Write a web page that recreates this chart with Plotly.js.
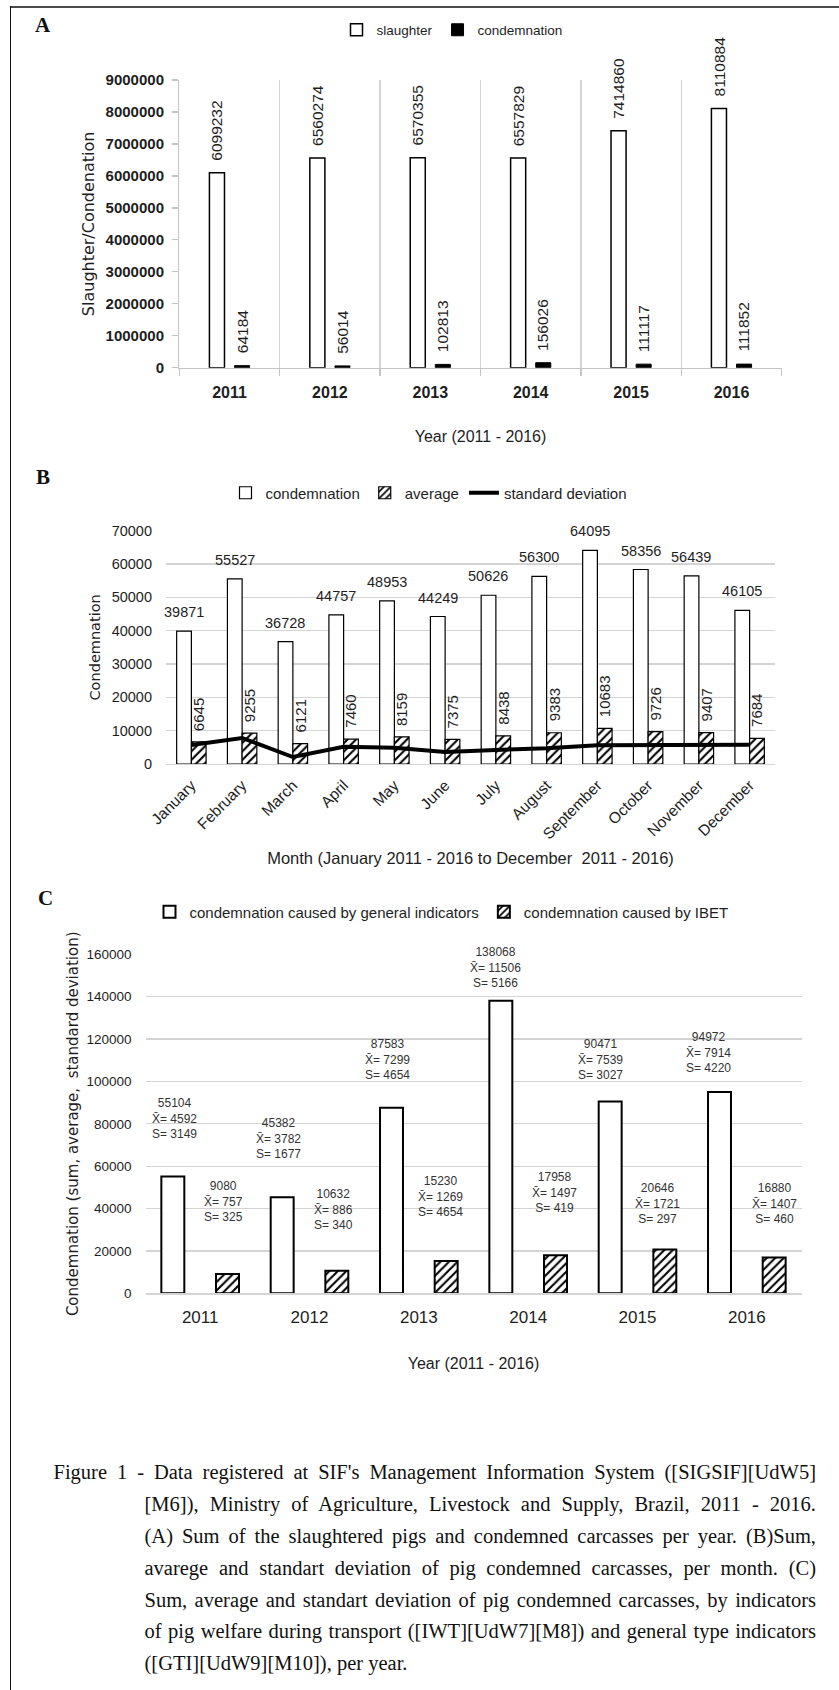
<!DOCTYPE html>
<html>
<head>
<meta charset="utf-8">
<script src="https://cdn.plot.ly/plotly-3.0.1.min.js"></script>
<style>
html,body{margin:0;padding:0;background:#fff;}
#wrap{position:relative;width:839px;height:1690px;overflow:hidden;background:#fff;}
#chart{position:absolute;left:0;top:0;width:839px;height:1690px;}
#frameTop{position:absolute;left:10px;top:6px;width:829px;height:0;border-top:2px solid #4a4a4a;}
#frameLeft{position:absolute;left:10px;top:6px;width:0;height:1684px;border-left:1.5px solid #111;}
#caption{position:absolute;left:0;top:0;width:839px;font-family:"Liberation Serif","Times New Roman",serif;font-size:20.5px;color:#111;}
.cl{position:absolute;height:31.8px;line-height:31.8px;white-space:nowrap;text-align:justify;text-align-last:justify;}
.cl.last{text-align:left;text-align-last:left;}
</style>
</head>
<body>
<div id="wrap">
  <div id="chart"></div>
  <div id="frameTop"></div>
  <div id="frameLeft"></div>
  <div id="caption"></div>
</div>
<script>
// ---------------- DATA ----------------
const years = ['2011', '2012', '2013', '2014', '2015', '2016'];
const slaughter = [6099232, 6560274, 6570355, 6557829, 7414860, 8110884];
const condemnationA = [64184, 56014, 102813, 156026, 111117, 111852];

const months = ['January', 'February', 'March', 'April', 'May', 'June', 'July',
  'August', 'September', 'October', 'November', 'December'];
const condemnationB = [39871, 55527, 36728, 44757, 48953, 44249, 50626, 56300, 64095, 58356, 56439, 46105];
const averageB = [6645, 9255, 6121, 7460, 8159, 7375, 8438, 9383, 10683, 9726, 9407, 7684];
const stdDevB = [5700, 7800, 2100, 5200, 4900, 3600, 4200, 4700, 5600, 5700, 5800, 5800];

const generalSum = [55104, 45382, 87583, 138068, 90471, 94972];
const generalMean = [4592, 3782, 7299, 11506, 7539, 7914];
const generalSd = [3149, 1677, 4654, 5166, 3027, 4220];
const ibetSum = [9080, 10632, 15230, 17958, 20646, 16880];
const ibetMean = [757, 886, 1269, 1497, 1721, 1407];
const ibetSd = [325, 340, 4654, 419, 297, 460];

const captionLines = [
  "Figure 1 - Data registered at SIF's Management Information System ([SIGSIF][UdW5]",
  "[M6]), Ministry of Agriculture, Livestock and Supply, Brazil, 2011 - 2016.",
  "(A) Sum of the slaughtered pigs and condemned carcasses per year. (B)Sum,",
  "avarege and standart deviation of pig condemned carcasses, per month. (C)",
  "Sum, average and standart deviation of pig condemned carcasses, by indicators",
  "of pig welfare during transport ([IWT][UdW7][M8]) and general type indicators",
  "([GTI][UdW9][M10]), per year."
];

// ---------------- LAYOUT HELPERS (pixels) ----------------
const W = 839, H = 1690;
function xd(a, b) { return [a / W, b / W]; }
function yd(top, bottom) { return [1 - bottom / H, 1 - top / H]; }
const SANS = 'Liberation Sans, Arial, sans-serif';
const WIDE = 'DejaVu Sans, Verdana, sans-serif';
const SERIF = 'Liberation Serif, Times New Roman, serif';
const TXT = '#1e1e1e';
const GRID = '#d4d4d4';

// label nudges for panel C (pixels: lift above bar top, horizontal nudge)
const genLift = [34, 34, 24, 9, 18, 15];
const genNudge = [2, -4, -4, -5, -10, -11];
const ibetLift = [48, 37, 40, 38, 22, 30];
const ibetNudge = [-4, -3, -6, -1, -7, 0];

// ---------------- TRACES ----------------
const traces = [
  // Panel A
  { type: 'bar', x: years, y: slaughter, name: 'slaughter', xaxis: 'x', yaxis: 'y',
    width: 0.15, offset: -0.2, legend: 'legend',
    marker: { color: '#ffffff', line: { color: '#000', width: 1.5 } } },
  { type: 'bar', x: years, y: condemnationA, name: 'condemnation', xaxis: 'x', yaxis: 'y',
    width: 0.15, offset: 0.05, legend: 'legend',
    marker: { color: '#000000', line: { color: '#000', width: 1 } } },
  // Panel B
  { type: 'bar', x: months, y: condemnationB, name: 'condemnation', xaxis: 'x2', yaxis: 'y2',
    width: 0.29, offset: -0.29, legend: 'legend2',
    marker: { color: '#ffffff', line: { color: '#000', width: 1.2 } } },
  { type: 'bar', x: months, y: averageB, name: 'average', xaxis: 'x2', yaxis: 'y2',
    width: 0.29, offset: 0, legend: 'legend2',
    marker: { color: '#ffffff', line: { color: '#000', width: 1.2 },
      pattern: { shape: '/', fgcolor: '#000', bgcolor: '#fff', size: 6, solidity: 0.35 } } },
  { type: 'scatter', mode: 'lines', x: months, y: stdDevB, name: 'standard deviation',
    xaxis: 'x2', yaxis: 'y2', legend: 'legend2',
    line: { color: '#000', width: 4 } },
  // Panel C
  { type: 'bar', x: years, y: generalSum, name: 'condemnation caused by general indicators',
    xaxis: 'x3', yaxis: 'y3', width: 0.21, offset: -0.355, legend: 'legend3',
    marker: { color: '#ffffff', line: { color: '#000', width: 2 } } },
  { type: 'bar', x: years, y: ibetSum, name: 'condemnation caused by IBET',
    xaxis: 'x3', yaxis: 'y3', width: 0.21, offset: 0.145, legend: 'legend3',
    marker: { color: '#ffffff', line: { color: '#000', width: 2 },
      pattern: { shape: '/', fgcolor: '#000', bgcolor: '#fff', size: 6, solidity: 0.35 } } }
];

// ---------------- ANNOTATIONS ----------------
// (on category axes, annotation x is the category's serial index)
const ann = [];
function letter(t, x, y) {
  ann.push({ xref: 'paper', yref: 'paper', x: x / W, y: 1 - y / H, text: t, showarrow: false,
    xanchor: 'center', yanchor: 'middle', font: { family: SERIF, size: 21, color: '#111', weight: 'bold' } });
}
letter('A', 43, 25);
letter('B', 43, 477);
letter('C', 45, 898);

years.forEach((yr, i) => {
  ann.push({ xref: 'x', yref: 'y', x: i, y: slaughter[i], text: String(slaughter[i]), textangle: -90,
    xanchor: 'center', yanchor: 'bottom', xshift: -12.5, yshift: 10, showarrow: false,
    font: { family: SANS, size: 15.5, color: TXT } });
  ann.push({ xref: 'x', yref: 'y', x: i, y: condemnationA[i], text: String(condemnationA[i]), textangle: -90,
    xanchor: 'center', yanchor: 'bottom', xshift: 12.5, yshift: 10, showarrow: false,
    font: { family: SANS, size: 15.5, color: TXT } });
});

months.forEach((m, i) => {
  ann.push({ xref: 'x2', yref: 'y2', x: i, y: condemnationB[i], text: String(condemnationB[i]),
    xanchor: 'center', yanchor: 'middle', xshift: -7.4, yshift: 19, showarrow: false,
    font: { family: SANS, size: 14.5, color: TXT } });
  ann.push({ xref: 'x2', yref: 'y2', x: i, y: averageB[i], text: String(averageB[i]), textangle: -90,
    xanchor: 'center', yanchor: 'bottom', xshift: 7.4, yshift: 9, showarrow: false,
    font: { family: SANS, size: 15, color: TXT } });
});

years.forEach((yr, i) => {
  ann.push({ xref: 'x3', yref: 'y3', x: i, y: generalSum[i],
    text: generalSum[i] + '<br>X\u0304= ' + generalMean[i] + '<br>S= ' + generalSd[i],
    xanchor: 'center', yanchor: 'bottom', align: 'center', xshift: -27.3 + genNudge[i], yshift: genLift[i],
    showarrow: false, font: { family: SANS, size: 12, color: '#333' } });
  ann.push({ xref: 'x3', yref: 'y3', x: i, y: ibetSum[i],
    text: ibetSum[i] + '<br>X\u0304= ' + ibetMean[i] + '<br>S= ' + ibetSd[i],
    xanchor: 'center', yanchor: 'bottom', align: 'center', xshift: 27.3 + ibetNudge[i], yshift: ibetLift[i],
    showarrow: false, font: { family: SANS, size: 12, color: '#333' } });
});

// ---------------- LAYOUT ----------------
const layout = {
  width: W, height: H,
  margin: { l: 0, r: 0, t: 0, b: 0, pad: 0 },
  paper_bgcolor: 'rgba(0,0,0,0)', plot_bgcolor: 'rgba(0,0,0,0)',
  barmode: 'overlay',
  hovermode: false,
  showlegend: true,
  font: { family: SANS, color: TXT },
  // Panel A
  xaxis: { domain: xd(179.3, 781.7), anchor: 'y', type: 'category', automargin: false,
    range: [-0.5, years.length - 0.5],
    tickson: 'boundaries', showgrid: true, gridcolor: GRID, gridwidth: 1.3,
    ticks: 'outside', ticklen: 7, tickcolor: '#c4c4c4', tickwidth: 1.3,
    showline: true, linecolor: '#c4c4c4', linewidth: 1.3, ticklabelstandoff: 10,
    tickfont: { family: SANS, size: 16, color: TXT, weight: 'bold' },
    title: { text: 'Year (2011 - 2016)', standoff: 30, font: { family: SANS, size: 16, color: TXT } } },
  yaxis: { domain: yd(80, 367.7), anchor: 'x', range: [0, 9000000], dtick: 1000000, tickformat: 'd',
    automargin: false, showgrid: false, zeroline: false, showline: true, linecolor: '#c4c4c4', linewidth: 1.3,
    ticks: 'outside', ticklen: 6, tickcolor: '#c4c4c4', tickwidth: 1.3, ticklabelstandoff: 5,
    tickfont: { family: SANS, size: 15, color: TXT, weight: 'bold' },
    title: { text: 'Slaughter/Condenation', standoff: 7, font: { family: WIDE, size: 16, color: TXT } } },
  // Panel B
  xaxis2: { domain: xd(166, 775), anchor: 'y2', type: 'category', automargin: false,
    range: [-0.5, months.length - 0.5],
    showgrid: false, ticks: '', showline: true, linecolor: GRID, linewidth: 1.3,
    tickangle: -45, ticklabelstandoff: 5,
    tickfont: { family: SANS, size: 15.5, color: TXT },
    title: { text: 'Month (January 2011 - 2016 to December  2011 - 2016)', standoff: 11,
      font: { family: SANS, size: 16.5, color: TXT } } },
  yaxis2: { domain: yd(530.7, 764), anchor: 'x2', range: [0, 70000], dtick: 10000, tickformat: 'd',
    automargin: false, showgrid: true, gridcolor: GRID, gridwidth: 1.3, zeroline: false, showline: false,
    ticks: '', ticklabelstandoff: 13,
    tickfont: { family: SANS, size: 14.5, color: TXT },
    title: { text: 'Condemnation', standoff: 7, font: { family: WIDE, size: 14.5, color: TXT } } },
  // Panel C
  xaxis3: { domain: xd(145.5, 801.5), anchor: 'y3', type: 'category', automargin: false,
    range: [-0.5, years.length - 0.5],
    showgrid: false, ticks: '', showline: true, linecolor: GRID, linewidth: 1.3, ticklabelstandoff: 8,
    tickfont: { family: SANS, size: 17, color: TXT },
    title: { text: 'Year (2011 - 2016)', standoff: 31, font: { family: SANS, size: 16, color: TXT } } },
  yaxis3: { domain: yd(954.3, 1293.3), anchor: 'x3', range: [0, 160000], dtick: 20000, tickformat: 'd',
    automargin: false, showgrid: true, gridcolor: GRID, gridwidth: 1.3, zeroline: false, showline: false,
    ticks: '', ticklabelstandoff: 13,
    tickfont: { family: SANS, size: 13.5, color: TXT },
    title: { text: 'Condemnation (sum, average,  standard deviation)', standoff: 4,
      font: { family: WIDE, size: 15, color: TXT } } },
  legend: { orientation: 'h', x: 452 / W, xanchor: 'center', y: 1 - 30 / H, yanchor: 'middle',
    bgcolor: 'rgba(0,0,0,0)', font: { family: SANS, size: 13.5, color: TXT }, itemclick: false, itemdoubleclick: false },
  legend2: { orientation: 'h', x: 429 / W, xanchor: 'center', y: 1 - 493 / H, yanchor: 'middle',
    bgcolor: 'rgba(0,0,0,0)', font: { family: SANS, size: 15, color: TXT }, itemclick: false, itemdoubleclick: false },
  legend3: { orientation: 'h', x: 441.5 / W, xanchor: 'center', y: 1 - 912 / H, yanchor: 'middle',
    bgcolor: 'rgba(0,0,0,0)', font: { family: SANS, size: 15, color: TXT }, itemclick: false, itemdoubleclick: false },
  annotations: ann
};

Plotly.newPlot('chart', traces, layout, { displayModeBar: false, staticPlot: true });

// ---------------- CAPTION ----------------
const cap = document.getElementById('caption');
const lineTop0 = 1457.4, lineH = 31.8;
captionLines.forEach((t, i) => {
  const d = document.createElement('div');
  d.className = 'cl' + (i === captionLines.length - 1 ? ' last' : '');
  d.textContent = t;
  const left = i === 0 ? 53.5 : 144.5;
  d.style.left = left + 'px';
  d.style.width = (816 - left) + 'px';
  d.style.top = (lineTop0 + i * lineH) + 'px';
  cap.appendChild(d);
});
</script>
</body>
</html>
